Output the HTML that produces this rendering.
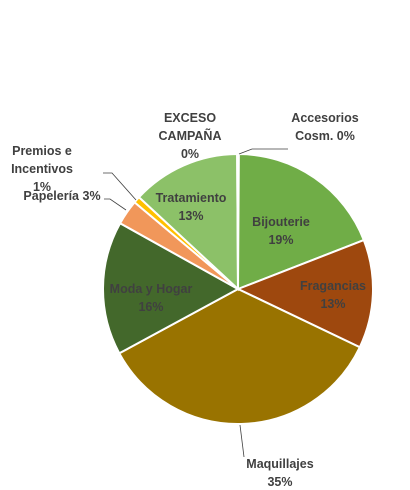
<!DOCTYPE html>
<html><head><meta charset="utf-8"><style>
html,body{margin:0;padding:0;background:#fff;width:410px;height:490px;overflow:hidden}
svg{display:block}
text{font-family:"Liberation Sans",Arial,sans-serif;font-weight:bold;font-size:12.5px;fill:#404040}
</style></head><body>
<svg id="chart" width="410" height="490" viewBox="0 0 410 490">
<g id="slices"></g>
<g id="labels">
<path d="M239,154 L252,149 L288,149" stroke="#404040" fill="none" stroke-width="0.8"/>
<path d="M103,173 L112,173 L136,200" stroke="#404040" fill="none" stroke-width="0.8"/>
<path d="M104,199 L110,199 L126,210" stroke="#404040" fill="none" stroke-width="0.8"/>
<path d="M240,425 L244,457" stroke="#404040" fill="none" stroke-width="0.8"/>
<text text-anchor="middle" x="190" y="122">EXCESO</text>
<text text-anchor="middle" x="190" y="140">CAMPAÑA</text>
<text text-anchor="middle" x="190" y="158">0%</text>
<text text-anchor="middle" x="325" y="122">Accesorios</text>
<text text-anchor="middle" x="325" y="140">Cosm. 0%</text>
<text text-anchor="middle" x="42" y="155">Premios e</text>
<text text-anchor="middle" x="42" y="173">Incentivos</text>
<text text-anchor="middle" x="42" y="191">1%</text>
<text text-anchor="middle" x="62" y="200">Papelería 3%</text>
<text text-anchor="middle" x="191" y="202">Tratamiento</text>
<text text-anchor="middle" x="191" y="220">13%</text>
<text text-anchor="middle" x="281" y="226">Bijouterie</text>
<text text-anchor="middle" x="281" y="244">19%</text>
<text text-anchor="middle" x="333" y="290">Fragancias</text>
<text text-anchor="middle" x="333" y="308">13%</text>
<text text-anchor="middle" x="151" y="293">Moda y Hogar</text>
<text text-anchor="middle" x="151" y="311">16%</text>
<text text-anchor="middle" x="280" y="468">Maquillajes</text>
<text text-anchor="middle" x="280" y="486">35%</text>
</g>
</svg>
<script>
const categories = ["Accesorios Cosm.","Bijouterie","Fragancias","Maquillajes","Moda y Hogar","Papelería","Premios e Incentivos","Tratamiento","EXCESO CAMPAÑA"];
const values = [0.1,19,13,35,16,3,0.8,13,0.1];
const colors = ["#5B9BD5","#70AD47","#9E480E","#997300","#43682B","#F1975A","#FFC000","#8CC168","#A5A5A5"];
const cx=238, cy=289, r=135;
const total = values.reduce((a,b)=>a+b,0);
const g=document.getElementById('slices');
let acc=0;
function pt(a){return [cx+r*Math.sin(a), cy-r*Math.cos(a)];}
values.forEach((v,i)=>{
  const a0=acc/total*2*Math.PI; acc+=v; const a1=acc/total*2*Math.PI;
  const p0=pt(a0), p1=pt(a1);
  const large=(a1-a0)>Math.PI?1:0;
  const p=document.createElementNS('http://www.w3.org/2000/svg','path');
  p.setAttribute('d',`M${cx},${cy} L${p0[0]},${p0[1]} A${r},${r} 0 ${large} 1 ${p1[0]},${p1[1]} Z`);
  p.setAttribute('fill',colors[i]);
  p.setAttribute('stroke','#fff');
  p.setAttribute('stroke-width','2');
  
  
  g.appendChild(p);
});
</script>
</body></html>
